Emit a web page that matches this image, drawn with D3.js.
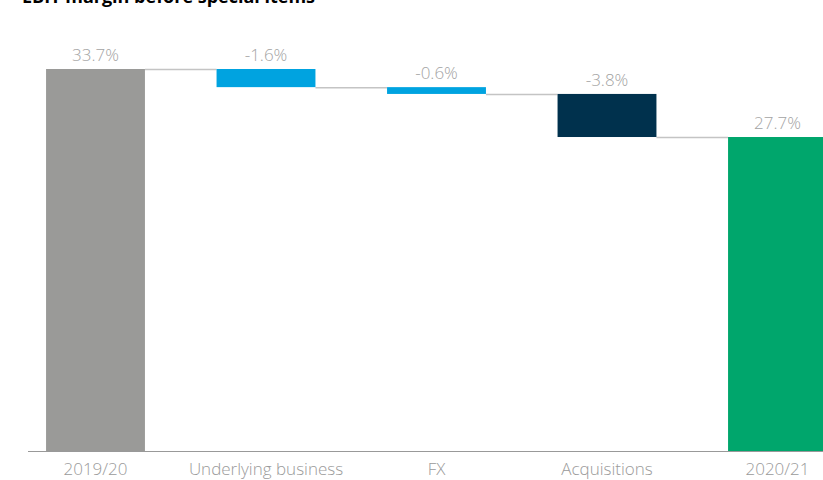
<!DOCTYPE html>
<html>
<head>
<meta charset="utf-8">
<script src="https://cdn.jsdelivr.net/npm/d3@7"></script>
<style>
  body { margin: 0; background: #fff; }
  svg { display: block; }
</style>
</head>
<body>
<div id="chart"></div>
<script>
// Waterfall data
const categories = ['2019/20', 'Underlying business', 'FX', 'Acquisitions', '2020/21'];
const values = [33.7, -1.6, -0.6, -3.8, 27.7];
const kinds = ['total', 'delta', 'delta', 'delta', 'total'];
const valueLabels = ['33.7%', '-1.6%', '-0.6%', '-3.8%', '27.7%'];
const barColors = ['#9a9a98', '#00a3e0', '#00a3e0', '#00314d', '#00a66c'];

const width = 823, height = 480;
const baseY = 451;

const svg = d3.select('#chart').append('svg')
    .attr('width', width)
    .attr('height', height);

// Build running totals
let running = 0;
const bars = categories.map((c, i) => {
    let start, end;
    if (kinds[i] === 'total') {
        start = 0; end = values[i]; running = values[i];
    } else {
        start = running; end = running + values[i]; running = end;
    }
    return { cat: c, start, end, label: valueLabels[i], color: barColors[i] };
});

const x = d3.scaleBand()
    .domain(categories)
    .range([10.25, 862.75])
    .paddingInner(0.42)
    .paddingOuter(0.21);

const y = d3.scaleLinear()
    .domain([0, 33.7])
    .range([baseY, 69]);

// Title (partly cut off at top, as in the source)
svg.append('text')
    .attr('x', 22)
    .attr('y', 3)
    .style('font-family', '"Open Sans", sans-serif')
    .style('font-weight', 700)
    .style('font-size', '18px')
    .style('fill', '#000')
    .text('EBIT margin before special items');

// Connector lines
const connectors = bars.slice(0, -1).map((b, i) => ({ from: b, to: bars[i + 1], level: b.end }));
svg.append('g')
    .selectAll('line')
    .data(connectors)
    .enter().append('line')
    .attr('x1', d => x(d.from.cat) + x.bandwidth())
    .attr('x2', d => x(d.to.cat))
    .attr('y1', d => y(d.level) + 0.5)
    .attr('y2', d => y(d.level) + 0.5)
    .attr('stroke', '#c4c4c4')
    .attr('stroke-width', 1.5);

// Bars
svg.append('g')
    .selectAll('rect')
    .data(bars)
    .enter().append('rect')
    .attr('x', d => x(d.cat))
    .attr('width', x.bandwidth())
    .attr('y', d => y(Math.max(d.start, d.end)))
    .attr('height', d => Math.abs(y(d.start) - y(d.end)))
    .attr('fill', d => d.color);

// Value labels
svg.append('g')
    .selectAll('text')
    .data(bars)
    .enter().append('text')
    .attr('x', d => x(d.cat) + x.bandwidth() / 2)
    .attr('y', d => y(Math.max(d.start, d.end)) - 8)
    .attr('text-anchor', 'middle')
    .style('font-family', '"Open Sans", sans-serif')
    .style('font-weight', 300)
    .style('font-size', '17px')
    .style('fill', '#a3a3a3')
    .text(d => d.label);

// Baseline axis
const axis = svg.append('g')
    .attr('transform', `translate(0,${baseY})`)
    .call(d3.axisBottom(x).tickSize(0).tickPadding(12));
axis.select('.domain').remove();
axis.append('line')
    .attr('x1', 28).attr('x2', width)
    .attr('y1', 0.5).attr('y2', 0.5)
    .attr('stroke', '#999')
    .attr('stroke-width', 1);
axis.selectAll('.tick text')
    .style('font-family', '"Open Sans", sans-serif')
    .style('font-weight', 300)
    .style('font-size', '17px')
    .style('fill', '#9a9a9a');
</script>
</body>
</html>
